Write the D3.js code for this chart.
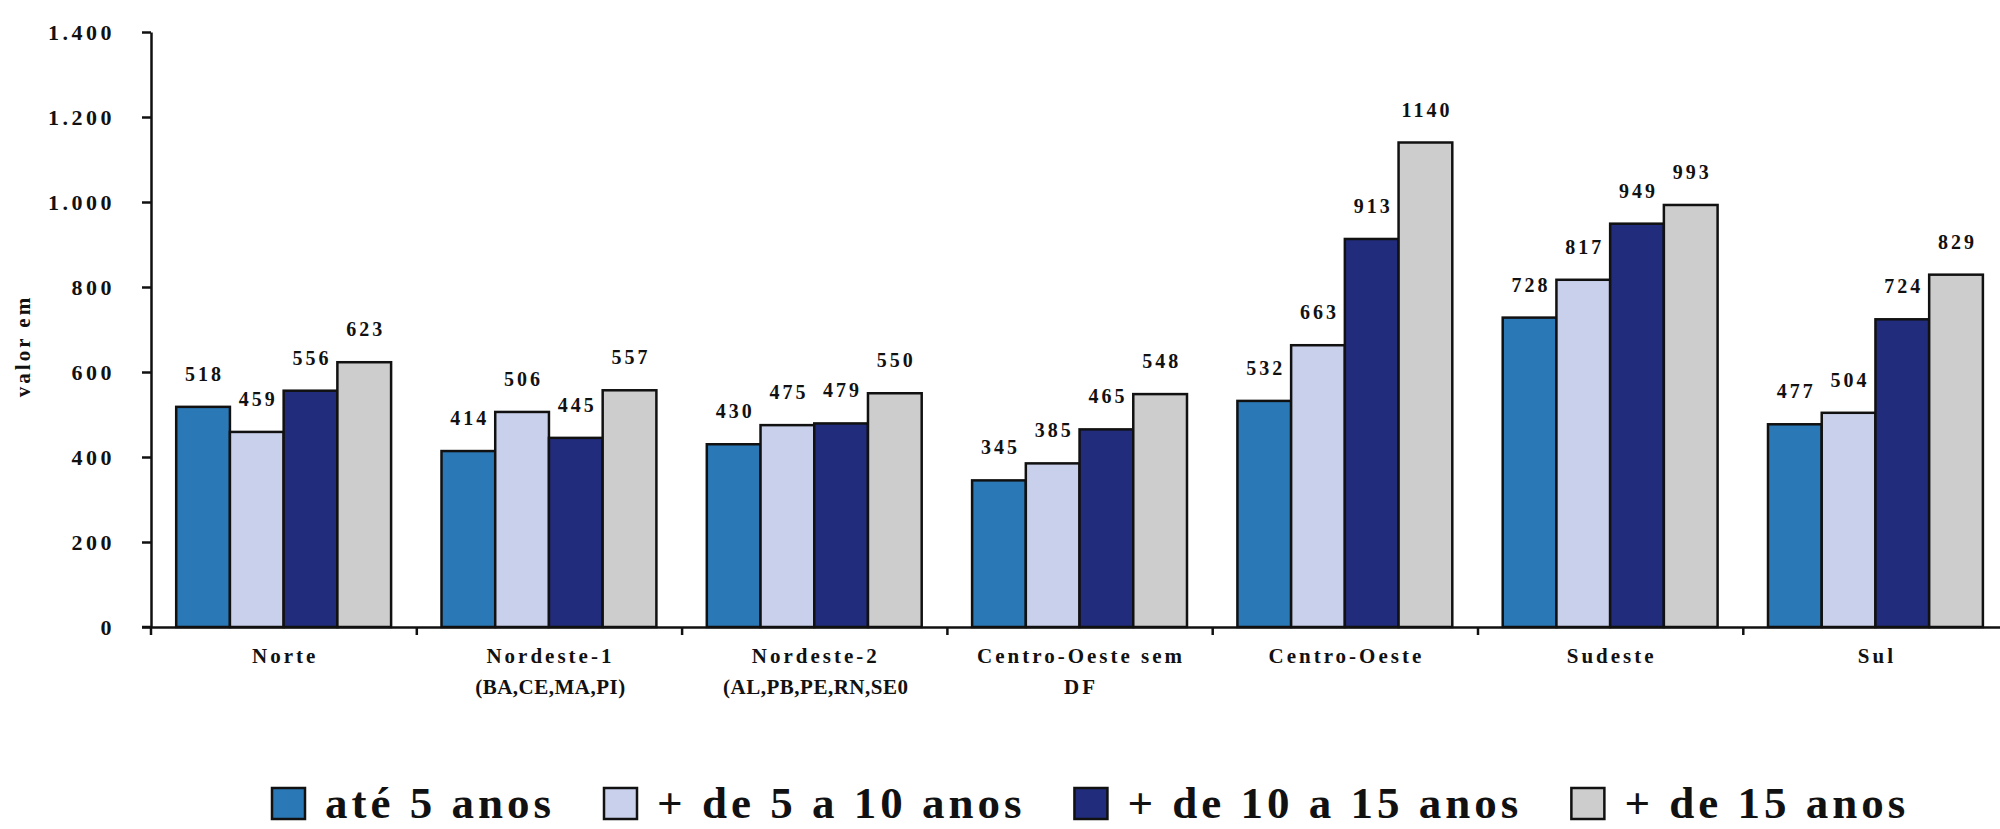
<!DOCTYPE html>
<html>
<head>
<meta charset="utf-8">
<script src="https://cdn.jsdelivr.net/npm/d3@7/dist/d3.min.js"></script>
<style>
  html, body { margin: 0; padding: 0; background: #fff; }
  svg { display: block; }
  text { font-family: "Liberation Serif", "Times New Roman", serif; font-weight: bold; fill: #111; }
</style>
</head>
<body>
<svg id="chart" width="2000" height="829"></svg>
<script>
// ---- data ----
const categories = [
  "Norte",
  "Nordeste-1\n(BA,CE,MA,PI)",
  "Nordeste-2\n(AL,PB,PE,RN,SE0",
  "Centro-Oeste sem\nDF",
  "Centro-Oeste",
  "Sudeste",
  "Sul"
];
const seriesNames = ["até 5 anos", "+ de 5 a 10 anos", "+ de 10 a 15 anos", "+ de 15 anos"];
const ate5      = [518, 414, 430, 345, 532, 728, 477];
const de5a10    = [459, 506, 475, 385, 663, 817, 504];
const de10a15   = [556, 445, 479, 465, 913, 949, 724];
const mais15    = [623, 557, 550, 548, 1140, 993, 829];
const yTicks    = [0, 200, 400, 600, 800, 1000, 1200, 1400];
const yTitle    = "valor em";
const colors    = ["#2a78b6", "#c9d0ec", "#222c7c", "#cdcdcd"];

const seriesValues = [ate5, de5a10, de10a15, mais15];

// ---- layout ----
const svg = d3.select("#chart");
const left = 151, step = 265.3;
const right = left + step * categories.length;
const y0 = 627, yTop = 32;

const x = d3.scaleBand().domain(categories).range([left, right])
  .paddingInner(0.19).paddingOuter(0.095);
const xs = d3.scaleBand().domain(d3.range(seriesNames.length)).range([0, x.bandwidth()]);
const y = d3.scaleLinear().domain([0, 1400]).range([y0, yTop]);

const loc = d3.formatLocale({decimal: ",", thousands: ".", grouping: [3], currency: ["", ""]});
const fmt = loc.format(",");

// bars
const groups = svg.append("g").selectAll("g").data(categories).join("g")
  .attr("transform", d => `translate(${x(d)},0)`);

groups.each(function(cat, ci) {
  const g = d3.select(this);
  seriesValues.forEach((vals, si) => {
    const v = vals[ci];
    g.append("rect")
      .attr("x", xs(si)).attr("y", y(v))
      .attr("width", xs.bandwidth()).attr("height", y(0) - y(v))
      .attr("fill", colors[si]).attr("stroke", "#111").attr("stroke-width", 2.5);
    g.append("text")
      .attr("x", xs(si) + xs.bandwidth() / 2 + 1.5).attr("y", y(v) - 26)
      .attr("text-anchor", "middle")
      .style("font-size", "20px").style("letter-spacing", "3px")
      .text(v);
  });
});

// y axis
const yAxis = svg.append("g").attr("transform", `translate(${left},0)`)
  .call(d3.axisLeft(y).tickValues(yTicks).tickFormat(fmt).tickSizeInner(9).tickSizeOuter(0).tickPadding(27));
yAxis.select(".domain").attr("stroke", "#111").attr("stroke-width", 2.5);
yAxis.selectAll(".tick line").attr("stroke", "#111").attr("stroke-width", 2.5);
yAxis.selectAll(".tick text")
  .style("font-size", "22px").style("letter-spacing", "3.5px")
  .style("font-family", "'Liberation Serif', serif").style("font-weight", "bold").attr("fill", "#111");
// extend y-axis slightly below
svg.append("line").attr("x1", left).attr("x2", left).attr("y1", y0).attr("y2", y0 + 8)
  .attr("stroke", "#111").attr("stroke-width", 2.5);

// x axis with ticks at band boundaries
const xb = d3.scaleLinear().domain([0, categories.length]).range([left, right]);
const xAxis = svg.append("g").attr("transform", `translate(0,${y0})`)
  .call(d3.axisBottom(xb).tickValues(d3.range(1, categories.length)).tickFormat("").tickSizeInner(8).tickSizeOuter(0));
xAxis.select(".domain").attr("stroke", "#111").attr("stroke-width", 2.5);
xAxis.selectAll(".tick line").attr("stroke", "#111").attr("stroke-width", 2.5);
svg.append("line").attr("x1", left - 9).attr("x2", left).attr("y1", y0).attr("y2", y0)
  .attr("stroke", "#111").attr("stroke-width", 2.5);

// category labels
categories.forEach(cat => {
  const lines = cat.split("\n");
  const t = svg.append("text")
    .attr("text-anchor", "middle")
    .style("font-size", "21px");
  lines.forEach((ln, i) => {
    t.append("tspan").attr("x", x(cat) + x.bandwidth() / 2 + 1.5).attr("y", 663 + i * 31)
      .style("letter-spacing", ln.startsWith("(") ? "0.5px" : "3px")
      .text(ln);
  });
});

// y title
svg.append("text")
  .attr("transform", "translate(30,346) rotate(-90)")
  .attr("text-anchor", "middle")
  .style("font-size", "21px").style("letter-spacing", "3px")
  .text(yTitle);

// legend
const leg = svg.append("g");
let lx = 272;
seriesNames.forEach((name, i) => {
  leg.append("rect").attr("x", lx).attr("y", 788).attr("width", 33).attr("height", 31)
    .attr("fill", colors[i]).attr("stroke", "#111").attr("stroke-width", 2.5);
  const t = leg.append("text").attr("x", lx + 53).attr("y", 818)
    .style("font-size", "45px").style("letter-spacing", "4px").text(name);
  const w = t.node().getComputedTextLength();
  lx = lx + 53 + w + 49;
});
</script>
</body>
</html>
